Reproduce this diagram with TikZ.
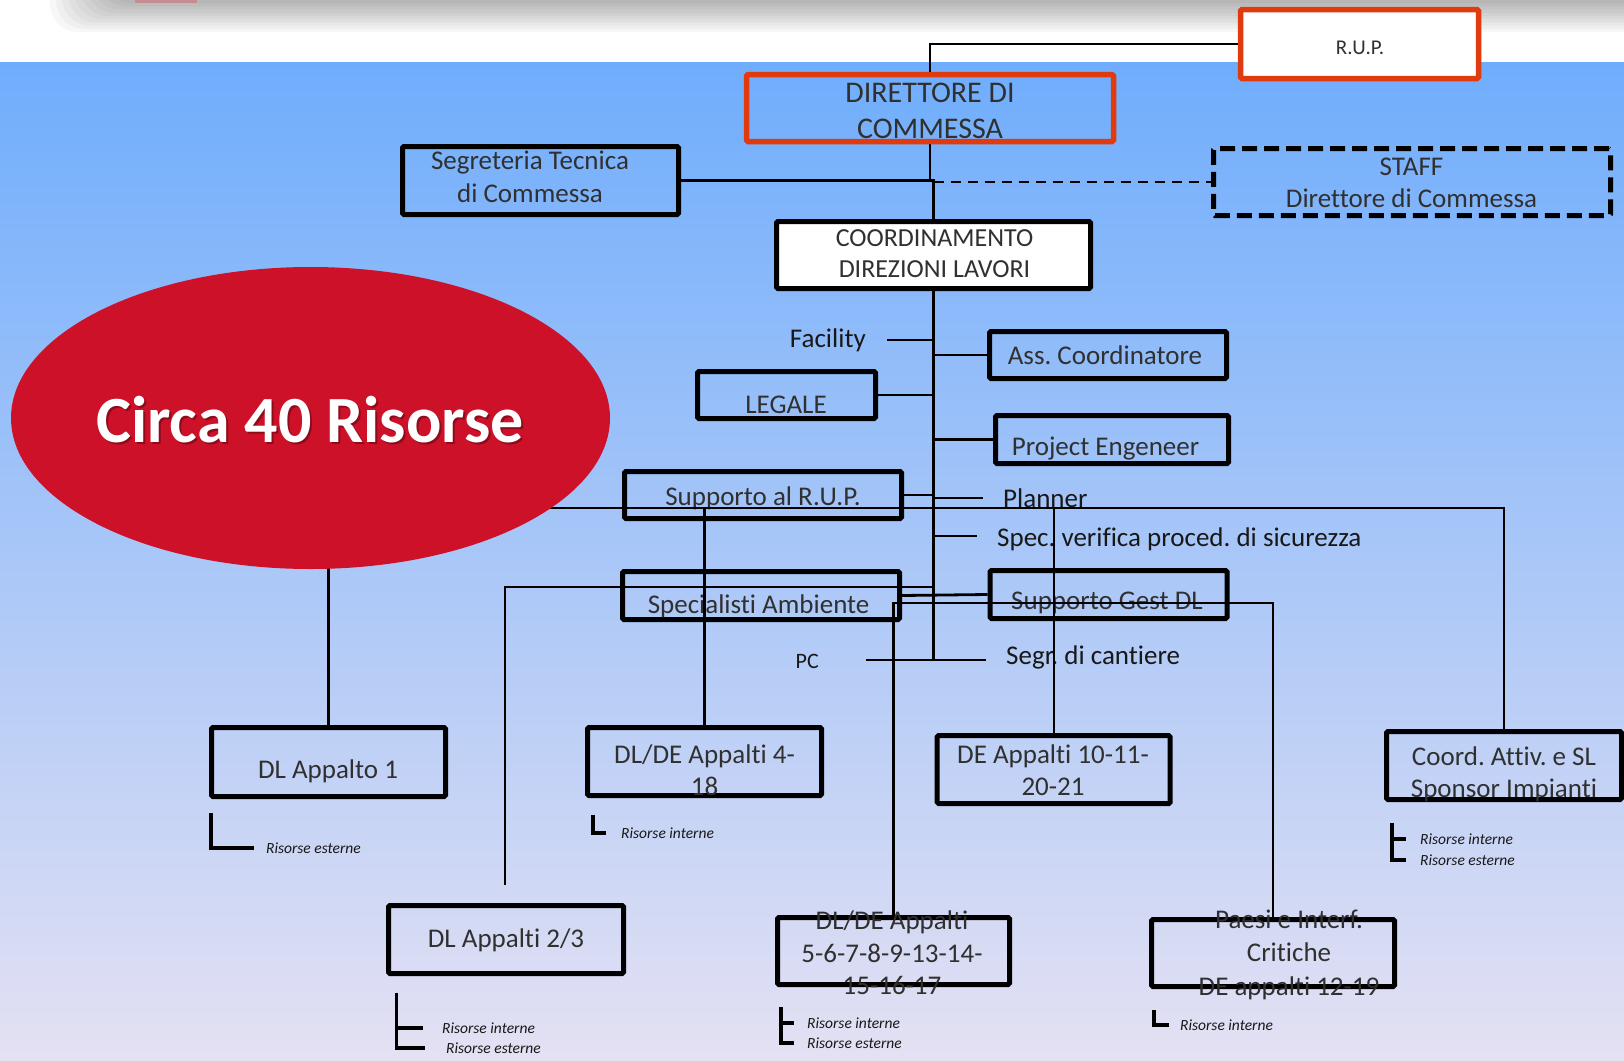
\documentclass[tikz,border=0pt]{standalone}
\usepackage{fontspec}
\setmainfont{Carlito}[Ligatures=CommonOff]
\usetikzlibrary{shapes.geometric}
\definecolor{bgtop}{RGB}{111,173,252}
\definecolor{bgbot}{RGB}{228,225,243}
\definecolor{redb}{RGB}{224,58,14}
\definecolor{crim}{RGB}{204,17,40}
\definecolor{tgray}{RGB}{48,48,48}
\definecolor{tblk}{RGB}{24,24,24}
\frenchspacing
\begin{document}
\begin{tikzpicture}[x=1pt,y=-1pt,
  box/.style={rectangle, draw=black, line width=5pt, rounded corners=1.5pt, inner sep=0pt},
  redbox/.style={box, draw=redb, line width=5.5pt},
  dbox/.style={box, dash pattern=on 15pt off 7pt},
  bt/.style={text=tgray, align=center, inner sep=0pt, font=\fontsize{27}{32.5}\selectfont},
  lbl/.style={text=tblk, inner sep=0pt, font=\fontsize{27}{32}\selectfont},
  ris/.style={text=tblk, inner sep=0pt, anchor=west, font=\fontsize{15.5}{18}\selectfont\itshape},
  con/.style={line width=2.8pt},
  lcon/.style={line width=2.4pt},
  brk/.style={line width=3.5pt},
]
\useasboundingbox (0,0) rectangle (1624,1060);
\clip (0,0) rectangle (1624,1060);
% background
\fill[white] (0,0) rectangle (1624,1060);
\shade[top color=bgtop, bottom color=bgbot] (0,62) rectangle (1624,1060);
% top shadow
\foreach \i in {0,...,9} {
  \fill[black, opacity=0.03, rounded corners=28pt] (50+\i*6,-60) rectangle (1700,32-\i*3.2);
}
\fill[crim!70, opacity=0.45] (135,0) rectangle (197,2.5);

% ---- boxes and texts ----
\node[redbox, fill=white, minimum width=238pt, minimum height=69pt] (rup) at (1359.5,44) {};
\node[bt, font=\fontsize{21}{25}\selectfont] (rupT) at (1360,48) {R.U.P.};
\node[redbox, minimum width=367pt, minimum height=67pt] (dir) at (930,108) {};
\node[bt, font=\fontsize{30}{35.5}\selectfont] (dirT) at (930,111) {DIRETTORE DI\\COMMESSA};
\node[box, minimum width=276pt, minimum height=68pt] (seg) at (540.5,180.5) {};
\node[bt, font=\fontsize{27}{33}\selectfont] (segT) at (530,177) {Segreteria Tecnica\\di Commessa};
\node[dbox, minimum width=397pt, minimum height=67pt] (staff) at (1412,182) {};
\node[bt, font=\fontsize{27}{32}\selectfont] (staffT) at (1411.5,183) {STAFF\\Direttore di Commessa};
\node[box, fill=white, minimum width=314pt, minimum height=67pt] (coord) at (933.5,255) {};
\node[bt, font=\fontsize{26}{31}\selectfont] (coordT) at (934.5,254) {COORDINAMENTO\\DIREZIONI LAVORI};

\node[lbl, anchor=east] (fac) at (866,340) {Facility};
\node[box, minimum width=237pt, minimum height=47pt] (ass) at (1108,355) {};
\node[bt] (assT) at (1105,355) {Ass. Coordinatore};
\node[box, minimum width=178pt, minimum height=47pt] (leg) at (786.5,395) {};
\node[bt] (legT) at (786,405) {LEGALE};
\node[box, minimum width=233pt, minimum height=48pt] (proj) at (1112,439.5) {};
\node[bt] (projT) at (1105.5,448.5) {Project Engeneer};
\node[box, minimum width=277pt, minimum height=47pt] (sup) at (763,495) {};
\node[bt] (supT) at (763,498.5) {Supporto al R.U.P.};
\node[lbl, anchor=west] (plan) at (1003,498) {Planner};
\node[lbl, anchor=west] (spec) at (997,539) {Spec. verifica proced. di sicurezza};
\node[box, minimum width=277pt, minimum height=48pt] (spa) at (761,595.5) {};
\node[bt] (spaT) at (758.6,606) {Specialisti Ambiente};
\node[box, minimum width=237pt, minimum height=48pt] (sgd) at (1108.5,594.5) {};
\node[bt] (sgdT) at (1107,603) {Supporto Gest DL};
\node[lbl, anchor=west] (segr) at (1006,657) {Segr. di cantiere};
\node[lbl, anchor=east, font=\fontsize{22}{26}\selectfont] (pc) at (819,661) {PC};

\node[box, minimum width=234pt, minimum height=69pt] (dl1) at (328.5,762) {};
\node[bt] (dl1T) at (328,771) {DL Appalto 1};
\node[box, minimum width=234pt, minimum height=68pt] (dl4) at (704.5,761.5) {};
\node[bt, font=\fontsize{27}{32}\selectfont] (dl4T) at (704.5,770) {DL/DE Appalti 4-\\18};
\node[box, minimum width=233pt, minimum height=68pt] (de10) at (1053.7,769.5) {};
\node[bt, font=\fontsize{27}{32}\selectfont] (de10T) at (1053,770) {DE Appalti 10-11-\\20-21};
\node[box, minimum width=235pt, minimum height=68pt] (coordA) at (1504,765.5) {};
\node[bt, font=\fontsize{27}{32}\selectfont] (coordAT) at (1504,774) {Coord. Attiv. e SL\\Sponsor Impianti};
\node[box, minimum width=235pt, minimum height=68pt] (dl23) at (506,939.5) {};
\node[bt] (dl23T) at (506,940) {DL Appalti 2/3};
\node[box, minimum width=232pt, minimum height=67pt] (dl5) at (893.5,951) {};
\node[bt, font=\fontsize{27}{32.5}\selectfont] (dl5T) at (892,953) {DL/DE Appalti\\5-6-7-8-9-13-14-\\15-16-17};
\node[box, minimum width=243pt, minimum height=67pt] (pae) at (1273,953) {};
\node[bt, font=\fontsize{27}{33.5}\selectfont] (paeT) at (1289,954.5) {Paesi e Interf.\\Critiche\\DE appalti 12-19};

% ---- resource labels and brackets ----
\node[ris] (r1) at (266,848) {Risorse esterne};
\draw[brk] (211,813) |- ([xshift=-12pt]r1.west);
\node[ris] (r2) at (621,833) {Risorse interne};
\draw[brk] (593,815) |- ([xshift=-15pt]r2.west);
\node[ris] (r3) at (442,1028) {Risorse interne};
\node[ris] (r4) at (446,1048) {Risorse esterne};
\draw[brk] (396.5,993) |- ([xshift=-21pt]r4.west);
\draw[brk] (396.5,1028) -- ([xshift=-19pt]r3.west);
\node[ris] (r5) at (807,1023) {Risorse interne};
\node[ris] (r6) at (807,1043) {Risorse esterne};
\draw[brk] (781,1007) |- ([xshift=-13pt]r6.west);
\draw[brk] (781,1023) -- ([xshift=-13pt]r5.west);
\node[ris] (r7) at (1180,1025) {Risorse interne};
\draw[brk] (1154,1010) |- ([xshift=-11pt]r7.west);
\node[ris] (r8) at (1420,839) {Risorse interne};
\node[ris] (r9) at (1420,860) {Risorse esterne};
\draw[brk] (1392,823) |- ([xshift=-14pt]r9.west);
\draw[brk] (1392,839) -- ([xshift=-14pt]r8.west);

% ---- connectors ----
\coordinate (facL) at ([xshift=21pt]fac.east);
\coordinate (planL) at ([xshift=-20pt]plan.west);
\coordinate (specL) at (977,536);
\coordinate (pcL) at (866,660);
\coordinate (segrL) at (986,660);
\coordinate (tEnd) at (933.5,660);
\coordinate (e1) at (540,508);
\coordinate (c23) at (505,885);
\coordinate (j23) at (505,587);
\coordinate (j5) at (893.5,603);
\coordinate (ec) at (310.5,418);

\draw[con] (dir.north) |- (rup.west);
\draw[con] (dir.south) -- (dir.south |- seg.east);
\draw[con] (seg.east) -- (coord.north |- seg.east) -- (coord.north);
\draw[con, dash pattern=on 10pt off 7pt] (coord.north |- staff.west) -- (staff.west);
\draw[line width=3pt] (coord.south) -- (tEnd);
\draw[con] (facL) -- (facL -| coord.south);
\draw[con] (coord.south |- ass.west) -- (ass.west);
\draw[con] (leg.east) -- (leg.east -| coord.south);
\draw[con] (coord.south |- proj.west) -- (proj.west);
\draw[con] (sup.east) -- (sup.east -| coord.south);
\draw[con] (planL -| coord.south) -- (planL);
\draw[con] (coord.south |- specL) -- (specL);
\draw[con] (spa.east) -- (sgd.west);
\draw[con] (pcL) -- (segrL);

\draw[lcon] (e1) -| (coordA.north);
\draw[lcon] (dl4.north |- e1) -- (dl4.north);
\draw[lcon] (de10.north |- e1) -- (de10.north);
\draw[lcon] (c23) -- (j23) -- (j23 -| coord.south);
\draw[lcon] (dl5.north) -- (dl5.north |- j5) -| (pae.north);
\draw[lcon] (dl1.north) -- (dl1.north |- ec);

% ---- ellipse ----
\node[ellipse, fill=crim, minimum width=599pt, minimum height=302pt, inner sep=0pt] (ell) at (ec) {};
\node[text=black, opacity=0.3, inner sep=0pt, font=\fontsize{66}{70}\selectfont\bfseries] (circaS) at (312,422) {Circa 40 Risorse};
\node[text=white, inner sep=0pt, font=\fontsize{66}{70}\selectfont\bfseries] (circa) at (310,420) {Circa 40 Risorse};
\end{tikzpicture}
\end{document}
